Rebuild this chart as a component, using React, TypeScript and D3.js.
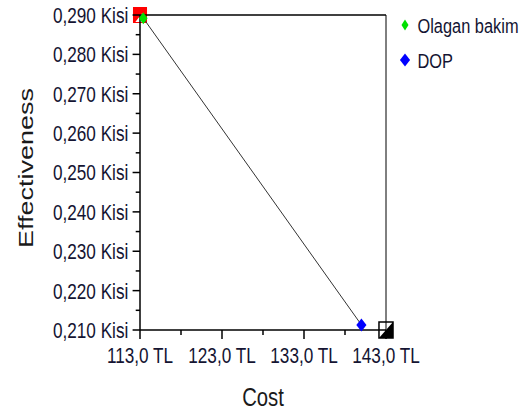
import * as d3 from 'd3'

const costTicks = [113, 123, 133, 143]
const costMinor = [118, 128, 138]
const effTicks = [0.21, 0.22, 0.23, 0.24, 0.25, 0.26, 0.27, 0.28, 0.29]
const effMinor = [0.215, 0.225, 0.235, 0.245, 0.255, 0.265, 0.275, 0.285]

const strategies = ['Olagan bakim', 'DOP']
const strategyCost = [113.4, 140.0]
const strategyEff = [0.2892, 0.2113]
const strategyColor = ['#00e000', '#0000ff']

// corner markers
const cornerCost = [113, 143]
const cornerEff = [0.29, 0.21]

const SX = 0.78
const W = 524
const H = 417
const font = 'Liberation Sans, Arial, sans-serif'

export default function App() {
  const x = d3.scaleLinear().domain([113, 143]).range([140 / SX, 386 / SX])
  const y = d3.scaleLinear().domain([0.21, 0.29]).range([330, 15])
  const [x0, x1] = x.range()
  const [y0, y1] = [y(0.29), y(0.21)]
  const fmtCost = (v: number) => d3.format('.1f')(v).replace('.', ',') + ' TL'
  const fmtEff = (v: number) => d3.format('.3f')(v).replace('.', ',') + ' Kisi'
  const diamond = (w: number, h: number) => `M0,${-h}L${w},0L0,${h}L${-w},0Z`
  const ns = { vectorEffect: 'non-scaling-stroke' as const }

  const sq = 9
  const sqh = 8
  const rx = x(cornerCost[0]), ry = y(cornerEff[0])
  const bx = x(cornerCost[1]), by = y(cornerEff[1])

  return (
    <svg width={W} height={H} style={{ position: 'absolute', left: 0, top: 0, background: '#fff' }}>
      <g transform={`scale(${SX},1)`}>
        {/* red corner */}
        <rect x={rx - sq} y={ry - sqh} width={sq * 2} height={sqh * 2} fill="#ff0000" />
        <path d={`M${rx - sq + 3},${ry + sqh - 1}L${rx + 3},${ry - 2}L${rx + 3},${ry + sqh - 1}Z`} fill="#fff" />
        {/* black corner */}
        <rect x={bx - sq} y={by - sqh} width={sq * 2} height={sqh * 2} fill="#fff" stroke="#000" strokeWidth={1.5} {...ns} />
        <path d={`M${bx - sq},${by + sqh}L${bx + sq},${by - sqh}L${bx + sq},${by + sqh}Z`} fill="#000" />

        {/* frame */}
        <line x1={x0} x2={x1} y1={y0} y2={y0} stroke="#000" strokeWidth={1.5} {...ns} />
        <line x1={x1} x2={x1} y1={y0} y2={y1} stroke="#000" {...ns} />
        <line x1={x0} x2={x0} y1={y0} y2={y1} stroke="#000" strokeWidth={1.5} {...ns} />
        <line x1={x0} x2={x1} y1={y1} y2={y1} stroke="#000" strokeWidth={1.5} {...ns} />

        {/* y ticks */}
        {effTicks.map(t => (
          <g key={t}>
            <line x1={x0 - 9.5} x2={x0} y1={y(t)} y2={y(t)} stroke="#000" strokeWidth={1.5} />
            <text x={x0 - 15} y={y(t)} dy="0.36em" textAnchor="end" fontFamily={font} fontSize={22} fill="#141432">
              {fmtEff(t)}
            </text>
          </g>
        ))}
        {effMinor.map(t => (
          <line key={t} x1={x0 - 5.5} x2={x0} y1={y(t)} y2={y(t)} stroke="#000" strokeWidth={1.5} />
        ))}

        {/* x ticks */}
        {costTicks.map(t => (
          <g key={t}>
            <line x1={x(t)} x2={x(t)} y1={y1} y2={y1 + 9} stroke="#000" strokeWidth={1.5} {...ns} />
            <text x={x(t)} y={363} textAnchor="middle" fontFamily={font} fontSize={22} fill="#141432">
              {fmtCost(t)}
            </text>
          </g>
        ))}
        {costMinor.map(t => (
          <line key={t} x1={x(t)} x2={x(t)} y1={y1} y2={y1 + 5} stroke="#000" strokeWidth={1.5} {...ns} />
        ))}

        {/* connecting line */}
        <path
          d={d3.line<number>().x(i => x(strategyCost[i])).y(i => y(strategyEff[i]))([0, 1]) ?? ''}
          fill="none"
          stroke="#333"
          strokeWidth={1}
          {...ns}
        />

        {/* points */}
        {strategies.map((s, i) => (
          <path
            key={s}
            transform={`translate(${x(strategyCost[i])},${y(strategyEff[i])})`}
            d={i === 0 ? diamond(5.5, 6) : diamond(6.5, 6.5)}
            fill={strategyColor[i]}
          />
        ))}

        {/* legend */}
        {strategies.map((s, i) => (
          <g key={s} transform={`translate(${405 / SX},${25 + i * 35})`}>
            <path d={i === 0 ? diamond(4.5, 5.5) : diamond(6.5, 6.5)} fill={strategyColor[i]} />
            <text x={16} y={0} dy="0.36em" fontFamily={font} fontSize={21} fill="#141432">
              {s}
            </text>
          </g>
        ))}

        {/* axis titles */}
        <text x={263 / SX} y={406} textAnchor="middle" fontFamily={font} fontSize={26} fill="#1a1a1a">
          Cost
        </text>
        <text
          transform={`translate(${33 / SX},${168}) rotate(-90)`}
          textAnchor="middle"
          fontFamily={font}
          fontSize={27}
          fill="#1a1a1a"
        >
          Effectiveness
        </text>
      </g>
    </svg>
  )
}
